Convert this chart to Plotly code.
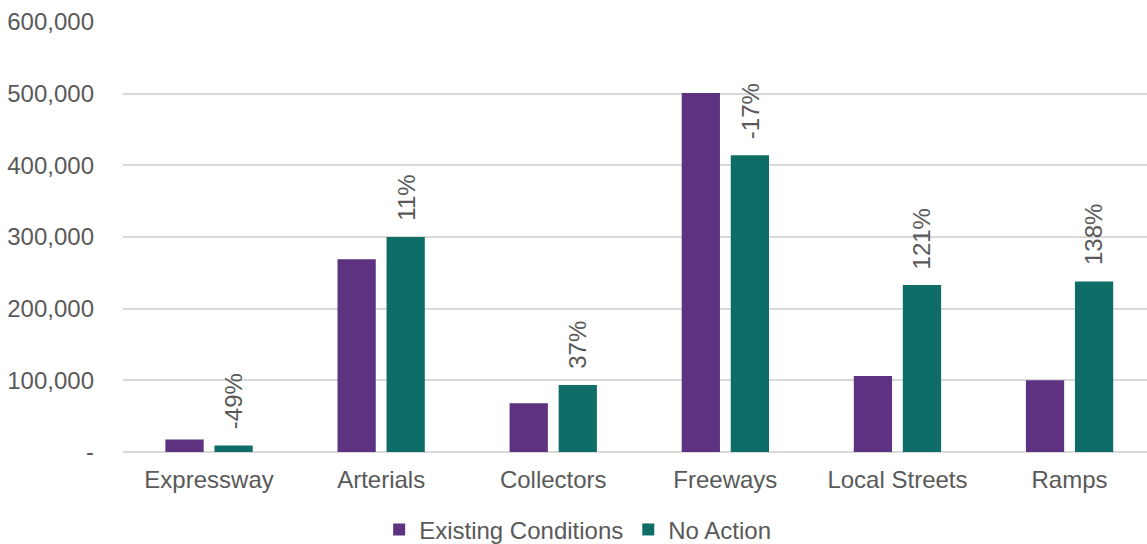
import plotly.graph_objects as go

categories = ["Expressway", "Arterials", "Collectors", "Freeways", "Local Streets", "Ramps"]
existing = [17500, 269000, 68000, 501000, 106000, 100000]
no_action = [8900, 300000, 93500, 414000, 233000, 238000]
change_labels = ["-49%", "11%", "37%", "-17%", "121%", "138%"]
y_ticks = [0, 100000, 200000, 300000, 400000, 500000, 600000]
y_ticktext = ["-", "100,000", "200,000", "300,000", "400,000", "500,000", "600,000"]

font_color = "#595959"
fam = "Liberation Sans, Arial"
fig = go.Figure()
fig.add_trace(go.Bar(x=categories, y=existing, name="Existing Conditions",
                     marker=dict(color="#5C3281", line=dict(width=0))))
fig.add_trace(go.Bar(x=categories, y=no_action, name="No Action",
                     marker=dict(color="#0F6D67", line=dict(width=0))))

# data labels above the No Action bars (second bar of each group)
for i, (cat, val, lab) in enumerate(zip(categories, no_action, change_labels)):
    fig.add_annotation(x=i, y=val, xref="x", yref="y", text=lab, showarrow=False,
                       textangle=-90, xanchor="center", yanchor="bottom",
                       xshift=24.5, yshift=14,
                       font=dict(size=24, color=font_color, family=fam))

fig.update_layout(
    width=1147, height=544,
    margin=dict(l=123, r=0, t=22, b=92),
    paper_bgcolor="white", plot_bgcolor="white",
    barmode="group", bargap=0.43, bargroupgap=0.22,
    font=dict(family=fam, size=24, color=font_color),
    showlegend=True,
    legend=dict(orientation="h", x=0.444, xanchor="center",
                yref="container", y=0.026, yanchor="middle",
                font=dict(size=24, color=font_color), itemwidth=30, borderwidth=0,
                tracegroupgap=0),
    xaxis=dict(showgrid=False, showline=False, ticks="", ticklabelstandoff=11,
               range=[-0.5, 5.45],
               tickfont=dict(size=24, color=font_color)),
    yaxis=dict(range=[0, 600000], tickvals=y_ticks, ticktext=y_ticktext,
               showgrid=True, gridcolor="#D9D9D9", gridwidth=1.5, zeroline=True,
               zerolinecolor="#D9D9D9", zerolinewidth=1.5, ticks="",
               ticklabelstandoff=28, tickfont=dict(size=24, color=font_color)),
)
fig.write_html("out.html")
